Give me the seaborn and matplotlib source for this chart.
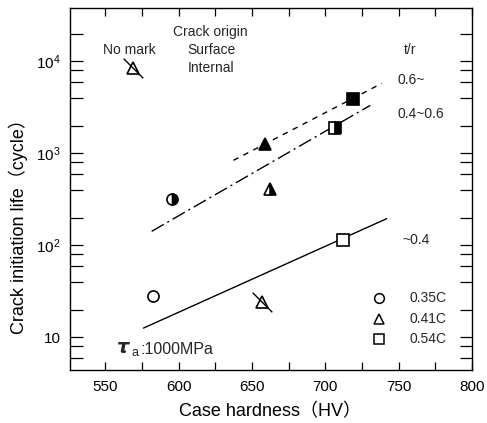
import numpy as np
import pandas as pd
import matplotlib
matplotlib.use("Agg")
import matplotlib.pyplot as plt
import seaborn as sns
from matplotlib.ticker import FixedLocator, NullFormatter

sns.set_theme(style="ticks")
plt.rcParams['font.family'] = ['Liberation Sans', 'DejaVu Sans']
plt.rcParams['mathtext.fontset'] = 'custom'
plt.rcParams['mathtext.rm'] = 'Liberation Sans'
plt.rcParams['mathtext.it'] = 'Liberation Sans:italic'
plt.rcParams['mathtext.bf'] = 'Liberation Sans:bold'

# ---- data ----
open_x = [582.7, 711.9]            # open marks (surface origin)
open_y = [27.9, 113]
open_m = ['o', 's']

filled_x = [658.9, 718.7]          # filled marks
filled_y = [1253, 3860]
filled_m = ['^', 's']

half_x = [595.2, 662.3, 706.5]     # half-filled marks
half_y = [316, 413, 1870]
half_m = ['o', '^', 's']

nomark_x = [569.2, 656.8]          # triangles with slash (no mark)
nomark_y = [8400, 24.0]

line_hi_x = [637.4, 738.6]   # t/r 0.6~
line_hi_y = [840, 5770]
line_mid_x = [581.6, 730.7]  # t/r 0.4-0.6
line_mid_y = [142, 3325]
line_lo_x = [576.0, 741.9]   # t/r ~0.4
line_lo_y = [12.6, 195]

legend_labels = ['0.35C', '0.41C', '0.54C']
legend_markers = ['o', '^', 's']

x_ticks = [550, 600, 650, 700, 750, 800]
y_ticks = [10, 100, 1000, 10000]
y_ticklabels = ['10', '$10^2$', '$10^3$', '$10^4$']

fig = plt.figure(figsize=(4.87, 4.23), dpi=100)
ax = fig.add_axes([0.144, 0.125, 0.825, 0.856])

# lines
sns.lineplot(x=line_hi_x, y=line_hi_y, ax=ax, color='black', lw=1.0,
             estimator=None, sort=False)
ax.lines[-1].set_dashes([4, 4])
sns.lineplot(x=line_mid_x, y=line_mid_y, ax=ax, color='black', lw=1.0,
             estimator=None, sort=False)
ax.lines[-1].set_dashes([10, 3, 1.5, 3])
sns.lineplot(x=line_lo_x, y=line_lo_y, ax=ax, color='black', lw=1.0,
             estimator=None, sort=False)

ms = 8
for x, y, m in zip(open_x, open_y, open_m):
    ax.plot([x], [y], marker=m, ms=ms, mfc='white', mec='black', mew=1.2, ls='none')
for x, y, m in zip(filled_x, filled_y, filled_m):
    ax.plot([x], [y], marker=m, ms=ms, mfc='black', mec='black', mew=1.2, ls='none')
for x, y, m in zip(half_x, half_y, half_m):
    ax.plot([x], [y], marker=m, ms=ms, mfc='black', mfcalt='white', fillstyle='right',
            mec='black', mew=1.2, ls='none')
ax.plot(nomark_x, nomark_y, marker='^', ms=ms, mfc='white', mec='black', mew=1.2, ls='none')
ax.plot(nomark_x, nomark_y, marker=(2, 0, 45), ms=20, mec='black', mew=1.0, ls='none')

ax.set_yscale('log')
ax.set_xlim(526, 800)
ax.set_ylim(4.4, 3.8e4)

ax.xaxis.set_major_locator(FixedLocator(x_ticks))
ax.xaxis.set_minor_locator(FixedLocator([575, 625, 675, 725, 775]))
ax.set_xticklabels([str(v) for v in x_ticks])
ax.yaxis.set_major_locator(FixedLocator(y_ticks))
minor_y = [m * 10 ** e for e in range(0, 5) for m in (2, 4, 6, 8)]
minor_y = [v for v in minor_y if 4.4 < v < 3.8e4]
ax.yaxis.set_minor_locator(FixedLocator(minor_y))
ax.yaxis.set_minor_formatter(NullFormatter())
ax.set_yticklabels(y_ticklabels)

ax.tick_params(axis='x', which='both', direction='in', top=True, bottom=True,
               length=6, width=0.9, labelsize=11, pad=7, color='black', labelcolor='black')
ax.tick_params(axis='y', which='both', direction='in', left=True, right=True,
               length=9, width=0.9, labelsize=11, pad=7, color='black', labelcolor='black')
for s in ax.spines.values():
    s.set_color('black')
    s.set_linewidth(1.0)

ax.set_xlabel('Case hardness（HV）', fontsize=13, color='black')
ax.set_ylabel('Crack initiation life（cycle）', fontsize=13, color='black')
ax.xaxis.label.set_family(['Liberation Sans', 'Noto Sans CJK JP'])
ax.yaxis.label.set_family(['Liberation Sans', 'Noto Sans CJK JP'])
ax.xaxis.set_label_coords((270 - 70) / 402, -(403 - 370) / 362)
ax.yaxis.set_label_coords((28 - 70) / 402, (370 - 222) / 362)

def px(xp, yp):
    return fig.transFigure.inverted().transform((xp, 423 - yp))

tf = fig.transFigure
fs = 10
ax.text(*px(210, 32), 'Crack origin', transform=tf, ha='center', va='center', fontsize=fs)
ax.text(*px(211, 50), 'Surface', transform=tf, ha='center', va='center', fontsize=fs)
ax.text(*px(211, 68), 'Internal', transform=tf, ha='center', va='center', fontsize=fs)
ax.text(*px(129, 50), 'No mark', transform=tf, ha='center', va='center', fontsize=fs)
ax.text(*px(410, 50), 't/r', transform=tf, ha='center', va='center', fontsize=fs)
ax.text(*px(398, 80), '0.6~', transform=tf, ha='left', va='center', fontsize=fs)
ax.text(*px(398, 114), '0.4~0.6', transform=tf, ha='left', va='center', fontsize=fs)
ax.text(*px(402, 240), '~0.4', transform=tf, ha='left', va='center', fontsize=fs)
ax.text(*px(116, 348), r'$\boldsymbol{\tau}$', transform=tf, ha='left', va='center', fontsize=14)
ax.text(*px(132, 353), 'a', transform=tf, ha='left', va='center', fontsize=9)
ax.text(*px(140, 349), ':1000MPa', transform=tf, ha='left', va='center', fontsize=11.5)

# legend
for i, (lab, m) in enumerate(zip(legend_labels, legend_markers)):
    yp = 298 + i * 20.5
    fx, fy = px(379, yp)
    ax.plot([fx], [fy], marker=m, ms=7, mfc='white', mec='black', mew=1.1,
            transform=tf, clip_on=False, ls='none')
    ax.text(*px(409, yp), lab, transform=tf, ha='left', va='center', fontsize=fs)

fig.savefig('out.png', dpi=100, facecolor='white')
